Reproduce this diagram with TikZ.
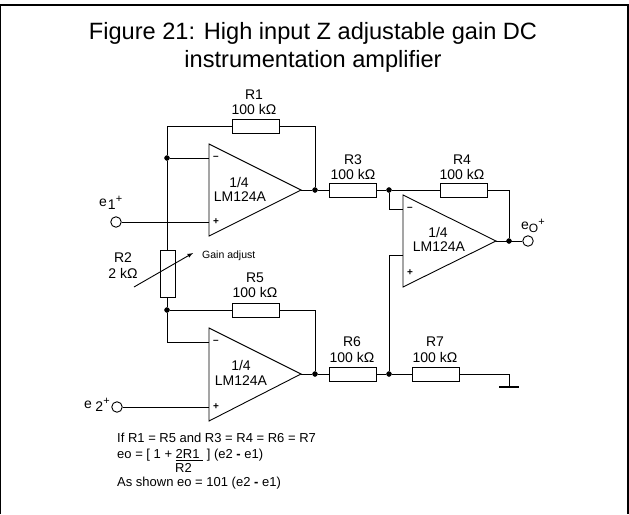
\documentclass[tikz,border=0pt]{standalone}
\usepackage{fontspec}
\setmainfont{Liberation Sans}
\newcommand{\inlabel}[3]{e\kern#1pt\raisebox{-3.5pt}{#2}\kern#3pt\raisebox{4pt}{\fontsize{11}{11}\selectfont +}}
\tikzset{
	res/.style={draw, fill=white, line width=0.9pt, minimum width=47pt, minimum height=14pt, inner sep=0pt},
	resv/.style={draw, fill=white, line width=0.9pt, minimum width=15pt, minimum height=47pt, inner sep=0pt},
	dot/.style={draw, circle, fill=black, minimum size=5pt, inner sep=0pt},
	term/.style={draw, circle, fill=white, line width=0.9pt, minimum size=10.5pt, inner sep=0pt},
	txt/.style={inner sep=0pt, font=\fontsize{14}{15}\selectfont, align=center},
	small/.style={inner sep=0pt, font=\fontsize{13}{15}\selectfont, anchor=west},
	sign/.style={inner sep=0pt, font=\fontsize{10}{10}\selectfont\bfseries},
	wire/.style={line width=0.9pt},
}
\begin{document}
\begin{tikzpicture}[x=1pt, y=-1pt]
	\useasboundingbox (0, 0) rectangle (629, 514);
	\draw[line width=1.8pt] (0.5, 514) -- (0.5, 5) -- (628, 5) -- (628, 514);

	\draw (313, 33) 	node[inner sep=0pt, font=\fontsize{23.6}{27}\selectfont] 	(title) 	{Figure 21: High input Z adjustable gain DC};
	\draw (313, 61) 	node[inner sep=0pt, font=\fontsize{23.6}{27}\selectfont] 	(title_b) 	{instrumentation amplifier};

	% amplifiers
	\coordinate (a1_t) at (209, 144);
	\coordinate (a1_b) at (209, 236);
	\coordinate (a1_o) at (301, 190);
	\coordinate (a2_t) at (403, 195);
	\coordinate (a2_b) at (403, 287);
	\coordinate (a2_o) at (496, 241);
	\coordinate (a3_t) at (209, 328);
	\coordinate (a3_b) at (209, 421);
	\coordinate (a3_o) at (301, 374);
	\coordinate (a1_m) at (209, 158);
	\coordinate (a1_p) at (209, 222);
	\coordinate (a2_m) at (403, 209);
	\coordinate (a2_p) at (403, 255);
	\coordinate (a3_m) at (209, 342);
	\coordinate (a3_p) at (209, 407);
	\draw[wire] (a1_t) -- (a1_o) -- (a1_b) -- cycle;
	\draw[wire] (a2_t) -- (a2_o) -- (a2_b) -- cycle;
	\draw[wire] (a3_t) -- (a3_o) -- (a3_b) -- cycle;

	% junctions
	\draw (167, 158) 	node[dot] 	(j_fb1) 	{};
	\draw (167, 310) 	node[dot] 	(j_fb3) 	{};
	\draw (315, 190) 	node[dot] 	(j_o1) 		{};
	\draw (315, 374) 	node[dot] 	(j_o3) 		{};
	\draw (389, 190) 	node[dot] 	(j_m) 		{};
	\draw (389, 374) 	node[dot] 	(j_p) 		{};
	\draw (509, 241) 	node[dot] 	(j_o2) 		{};

	% terminals
	\draw (116, 222) 	node[term] 	(e1) 		{};
	\draw (117, 407) 	node[term] 	(e2) 		{};
	\draw (528, 241) 	node[term] 	(eo) 		{};

	% resistors
	\coordinate (gnd) at (509, 387);
	\coordinate (r1_l) at (167, 126);
	\coordinate (r1_r) at (315, 126);
	\coordinate (r5_r) at (315, 310);
	\coordinate (r4_r) at (509, 190);
	\draw[wire] (r1_l) -- (r1_r) -- (j_o1);
	\draw[wire] (r1_l) -- (j_fb1);
	\draw[wire] (j_fb3) -- (r5_r) -- (j_o3);
	\draw[wire] (j_fb1) -- (j_fb3);
	\draw[wire] (j_fb1) -- (a1_m);
	\draw[wire] (j_fb3) |- (a3_m);
	\draw[wire] (e1) -- (a1_p);
	\draw[wire] (e2) -- (a3_p);
	\draw[wire] (a1_o) -- (j_o1) -- (j_m) -- (r4_r) -- (j_o2);
	\draw[wire] (a2_o) -- (eo);
	\draw[wire] (j_m) |- (a2_m);
	\draw[wire] (a2_p) -| (j_p);
	\draw[wire] (a3_o) -- (j_o3) -- (j_p) -- (509, 374) -- (gnd);
	\draw (255.5, 126) 	node[res] 	(r1) 	{};
	\draw (255.5, 310) 	node[res] 	(r5) 	{};
	\draw (352.5, 190) 	node[res] 	(r3) 	{};
	\draw (463.5, 190) 	node[res] 	(r4) 	{};
	\draw (352.5, 374) 	node[res] 	(r6) 	{};
	\draw (435.5, 374) 	node[res] 	(r7) 	{};
	\draw (167.5, 273.5) 	node[resv] 	(r2) 	{};

	% ground and gain arrow
	\coordinate (gnd_l) at (499, 387);
	\coordinate (gnd_r) at (519, 387);
	\draw[line width=2pt] (gnd_l) -- (gnd_r);
	\coordinate (adj_a) at (134, 287);
	\coordinate (adj_b) at (193, 253);
	\draw[wire, -latex] (adj_a) -- (adj_b);

	% labels
	\draw (254, 95) 	node[txt] 	(r1_n) 	{R1};
	\draw (254, 109) 	node[txt] 	(r1_v) 	{100 kΩ};
	\draw (123, 258) 	node[txt] 	(r2_n) 	{R2};
	\draw (123, 273) 	node[txt] 	(r2_v) 	{2 kΩ};
	\draw (353, 160) 	node[txt] 	(r3_n) 	{R3};
	\draw (353, 174) 	node[txt] 	(r3_v) 	{100 kΩ};
	\draw (462, 160) 	node[txt] 	(r4_n) 	{R4};
	\draw (462, 174) 	node[txt] 	(r4_v) 	{100 kΩ};
	\draw (255, 278) 	node[txt] 	(r5_n) 	{R5};
	\draw (255, 292) 	node[txt] 	(r5_v) 	{100 kΩ};
	\draw (352, 342) 	node[txt] 	(r6_n) 	{R6};
	\draw (352, 357) 	node[txt] 	(r6_v) 	{100 kΩ};
	\draw (435, 342) 	node[txt] 	(r7_n) 	{R7};
	\draw (435, 357) 	node[txt] 	(r7_v) 	{100 kΩ};
	\draw (239, 182) 	node[txt] 	(a1_f) 	{1/4};
	\draw (240, 197) 	node[txt] 	(a1_n) 	{LM124A};
	\draw (438, 232) 	node[txt] 	(a2_f) 	{1/4};
	\draw (439, 247) 	node[txt] 	(a2_n) 	{LM124A};
	\draw (241, 365) 	node[txt] 	(a3_f) 	{1/4};
	\draw (241, 381) 	node[txt] 	(a3_n) 	{LM124A};
	\draw (216, 158) 	node[sign] 	(a1_ms) {–};
	\draw (216, 222) 	node[sign] 	(a1_ps) {+};
	\draw (410, 209) 	node[sign] 	(a2_ms) {–};
	\draw (410, 273) 	node[sign] 	(a2_ps) {+};
	\draw (216, 342) 	node[sign] 	(a3_ms) {–};
	\draw (216, 407) 	node[sign] 	(a3_ps) {+};
	\draw (99, 203) 	node[txt, anchor=west] 	(e1_n) 	{\inlabel{1}{1}{0}};
	\draw (84, 405) 	node[txt, anchor=west] 	(e2_n) 	{\inlabel{3.5}{2}{0}};
	\draw (521, 226) 	node[txt, anchor=west] 	(eo_n) 	{e\raisebox{-3pt}{\fontsize{12}{12}\selectfont O}\raisebox{4pt}{\fontsize{11}{11}\selectfont +}};
	\draw (202, 256) 	node[inner sep=0pt, anchor=west, font=\fontsize{10.5}{12}\selectfont] (adj_n) {Gain adjust};

	% formula
	\draw (117, 438) 	node[small] 	(f1) 	{If R1 = R5 and R3 = R4 = R6 = R7};
	\draw (117, 455) 	node[small] 	(f2) 	{eo = [ 1 + \underline{2R1 } ] (e2 \textbf{-} e1)};
	\draw (175, 468) 	node[small] 	(f3) 	{R2};
	\draw (117, 483) 	node[small] 	(f4) 	{As shown eo = 101 (e2 \textbf{-} e1)};
\end{tikzpicture}
\end{document}
